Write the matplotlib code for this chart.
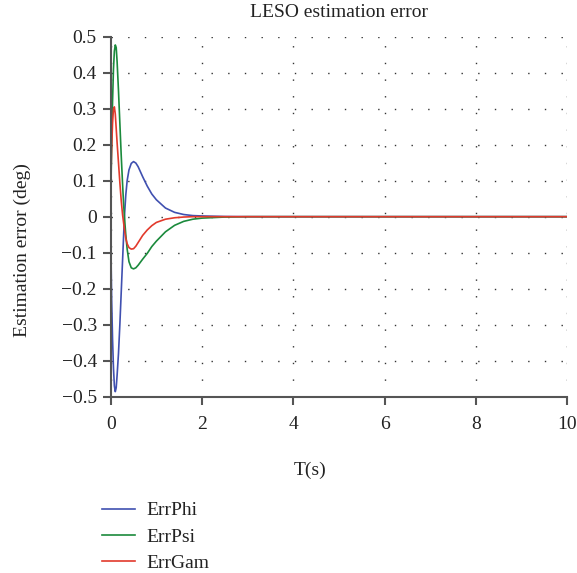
import matplotlib
matplotlib.use("Agg")
import matplotlib.pyplot as plt

plt.rcParams["font.family"] = ["Liberation Serif", "DejaVu Serif"]

# time axis (s)
t = [0, 0.01, 0.02, 0.04, 0.06, 0.08, 0.1, 0.12, 0.14, 0.17, 0.2, 0.23, 0.26, 0.28,
     0.3, 0.33, 0.36, 0.4, 0.45, 0.5, 0.55, 0.6, 0.7, 0.8, 0.9, 1.0, 1.2, 1.4, 1.6,
     1.8, 2.0, 2.5, 3.0, 4.0, 10.0]

err_phi = [0, -0.14, -0.23, -0.34, -0.42, -0.47, -0.486, -0.475, -0.44, -0.38, -0.30,
           -0.21, -0.12, -0.06, 0.0, 0.06, 0.10, 0.13, 0.148, 0.153, 0.149, 0.139,
           0.111, 0.085, 0.063, 0.047, 0.024, 0.012, 0.006, 0.003, 0.002, 0.0005, 0,
           0, 0]

err_psi = [0, 0.12, 0.2, 0.32, 0.41, 0.46, 0.477, 0.47, 0.43, 0.35, 0.26, 0.17, 0.09,
           0.04, 0.0, -0.05, -0.09, -0.125, -0.142, -0.145, -0.142, -0.135, -0.118,
           -0.102, -0.083, -0.068, -0.042, -0.024, -0.013, -0.007, -0.004, -0.001, 0,
           0, 0]

err_gam = [0, 0.14, 0.19, 0.26, 0.30, 0.305, 0.285, 0.245, 0.205, 0.15, 0.095, 0.045,
           0.005, -0.015, -0.035, -0.06, -0.075, -0.086, -0.09, -0.089, -0.082,
           -0.072, -0.052, -0.037, -0.025, -0.016, -0.007, -0.003, -0.001, 0, 0, 0, 0,
           0, 0]

xticks = [0, 2, 4, 6, 8, 10]
yticks = [0.5, 0.4, 0.3, 0.2, 0.1, 0, -0.1, -0.2, -0.3, -0.4, -0.5]


def fmt(v):
    if v == 0:
        return "0"
    s = f"{v:.1f}"
    return s.replace("-", "\u2212")


fig = plt.figure(figsize=(5.77, 5.73), dpi=100)
ax = fig.add_axes([0.1919, 0.3077, 0.7908, 0.6283])

ax.plot(t, err_phi, color="#4050b0", lw=1.2, label="ErrPhi")
ax.plot(t, err_psi, color="#1b8a3c", lw=1.2, label="ErrPsi")
ax.plot(t, err_gam, color="#e23a2c", lw=1.2, label="ErrGam")

ax.set_xlim(0, 10)
ax.set_ylim(-0.5, 0.5)
ax.set_xticks(xticks)
ax.set_xticklabels([str(x) for x in xticks])
ax.set_yticks(yticks)
ax.set_yticklabels([fmt(v) for v in yticks])
ax.grid(True, color="#333333", linestyle=(0, (1, 11)), linewidth=1.0)

for side in ["top", "right"]:
    ax.spines[side].set_visible(False)
for side in ["left", "bottom"]:
    ax.spines[side].set_color("#555555")
    ax.spines[side].set_linewidth(1.5)
ax.tick_params(direction="out", length=6, width=1.5, color="#555555",
               labelsize=14, labelcolor="#222222", pad=4)
ax.tick_params(axis="x", pad=8)

ax.set_title("LESO estimation error", fontsize=14, color="#222222", pad=14)
fig.text(310 / 577, 1 - 470 / 573, "T(s)", fontsize=14, color="#222222",
         ha="center", va="center")
fig.text(22 / 577, 1 - 250 / 573, "Estimation error (deg)", fontsize=14,
         color="#222222", rotation=90, ha="center", va="center")

ax.legend(loc="upper left", bbox_to_anchor=(-0.019, -0.292), frameon=False,
          fontsize=14, handlelength=1.7, handletextpad=0.57, labelspacing=0.45,
          borderpad=0, borderaxespad=0, labelcolor="#222222")

fig.savefig("out.png", dpi=100)
